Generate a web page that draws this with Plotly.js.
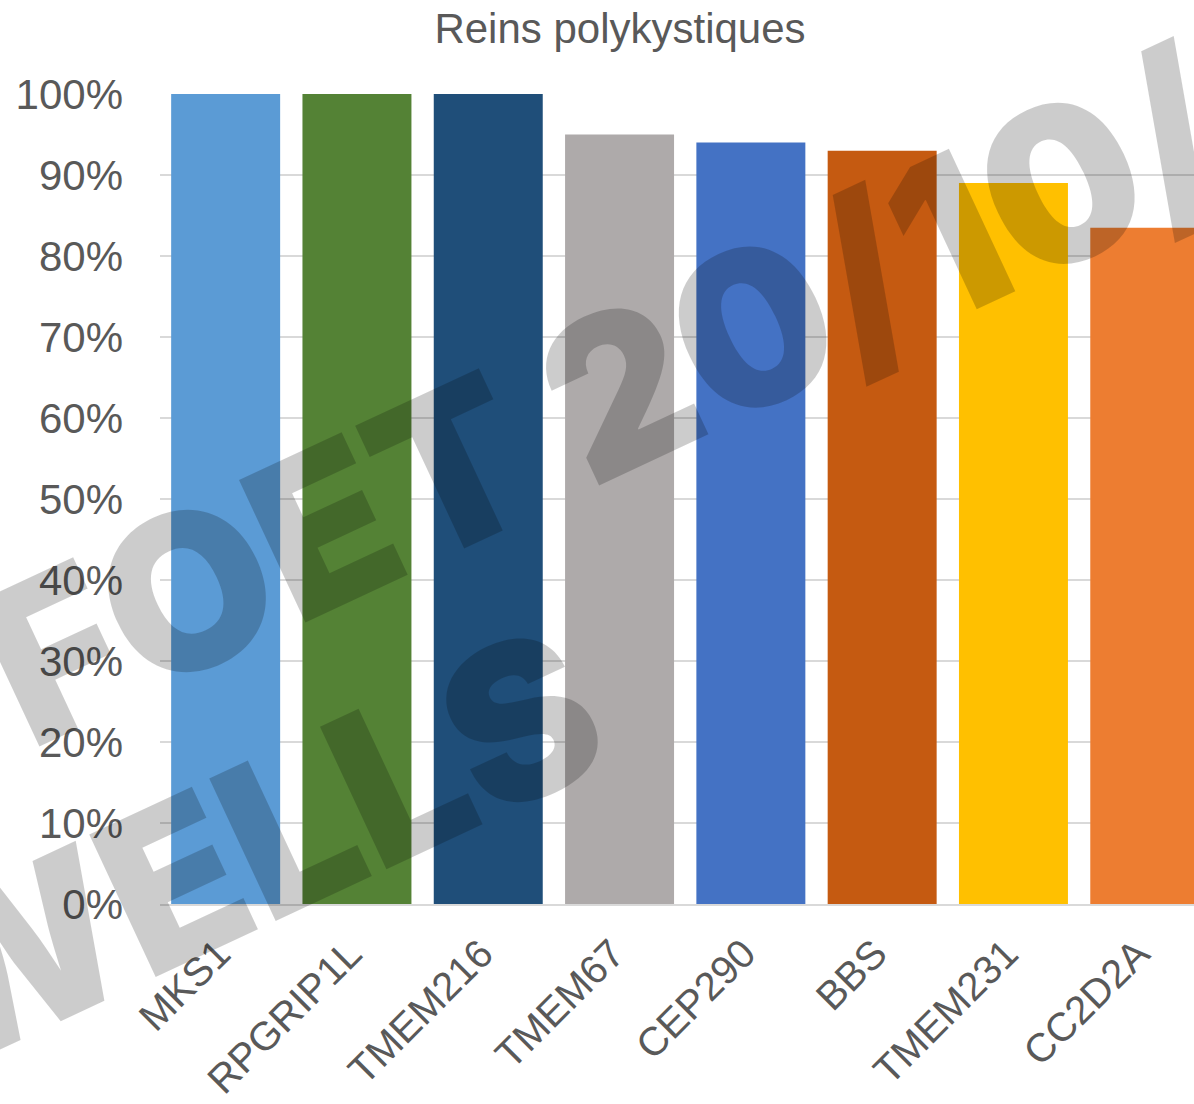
<!DOCTYPE html>
<html>
<head>
<meta charset="utf-8">
<script src="https://cdn.plot.ly/plotly-3.0.1.min.js"></script>
<style>
  html, body { margin: 0; padding: 0; background: #ffffff; }
  #chart { width: 1194px; height: 1104px; }
</style>
</head>
<body>
<div id="chart"></div>
<script>
// Genes and share of cases with polycystic kidneys
const genes = ["MKS1", "RPGRIP1L", "TMEM216", "TMEM67", "CEP290", "BBS", "TMEM231", "CC2D2A"];
const shares = [1.00, 1.00, 1.00, 0.95, 0.94, 0.93, 0.89, 0.835];
const barColors = ["#5B9BD5", "#548235", "#1F4E79", "#AEAAAA", "#4472C4", "#C55A11", "#FFC000", "#ED7D31"];
const yTicks = [0, 0.1, 0.2, 0.3, 0.4, 0.5, 0.6, 0.7, 0.8, 0.9, 1.0];
const watermarkLines = ["FOET 20/10/", "WELLS"];

const textGrey = "#595959";
const gridGrey = "#D9D9D9";
const font = "Liberation Sans, Arial, sans-serif";

const trace = {
  type: "bar",
  x: genes,
  y: shares,
  marker: { color: barColors, line: { width: 0 } },
  hoverinfo: "x+y"
};

// diagonal stamp drawn over the bars
const stamp = {
  xref: "paper", yref: "paper",
  showarrow: false,
  textangle: -25,
  xanchor: "center", yanchor: "middle",
  font: { family: "Inter, Liberation Sans, sans-serif", size: 216, color: "rgba(0,0,0,0.2)", weight: 900 }
};

const W = 1194, H = 1104, ml = 160, mr = 0, mt = 94, mb = 200;
const px = (x) => (x - ml) / (W - ml - mr);
const py = (y) => 1 - (y - mt) / (H - mt - mb);

const layout = {
  width: W, height: H,
  margin: { l: ml, r: mr, t: mt, b: mb, pad: 0 },
  paper_bgcolor: "#ffffff",
  plot_bgcolor: "#ffffff",
  showlegend: false,
  bargap: 0.17,
  title: {
    text: "Reins polykystiques",
    font: { family: font, size: 42, color: textGrey },
    x: 620 / W, xref: "container", xanchor: "center",
    y: 1 - 28 / H, yref: "container", yanchor: "middle"
  },
  xaxis: {
    type: "category",
    range: [-0.5, 7.375],
    tickangle: -45,
    tickfont: { family: font, size: 40, color: textGrey },
    ticks: "",
    ticklabelstandoff: 8,
    ticklabelshift: -7,
    showgrid: false,
    showline: true,
    linecolor: gridGrey,
    linewidth: 2,
    fixedrange: true
  },
  yaxis: {
    range: [0, 1],
    tickvals: yTicks,
    tickformat: ".0%",
    tickfont: { family: font, size: 42, color: textGrey },
    ticks: "",
    ticklabelstandoff: 36,
    showgrid: true,
    gridcolor: gridGrey,
    gridwidth: 1.5,
    zeroline: false,
    showline: false,
    fixedrange: true
  },
  annotations: [
    Object.assign({}, stamp, { text: watermarkLines[0], x: px(604), y: py(396) }),
    Object.assign({}, stamp, { text: watermarkLines[1], x: px(243), y: py(849) })
  ]
};

Plotly.newPlot("chart", [trace], layout, { displayModeBar: false, staticPlot: true });
</script>
</body>
</html>
